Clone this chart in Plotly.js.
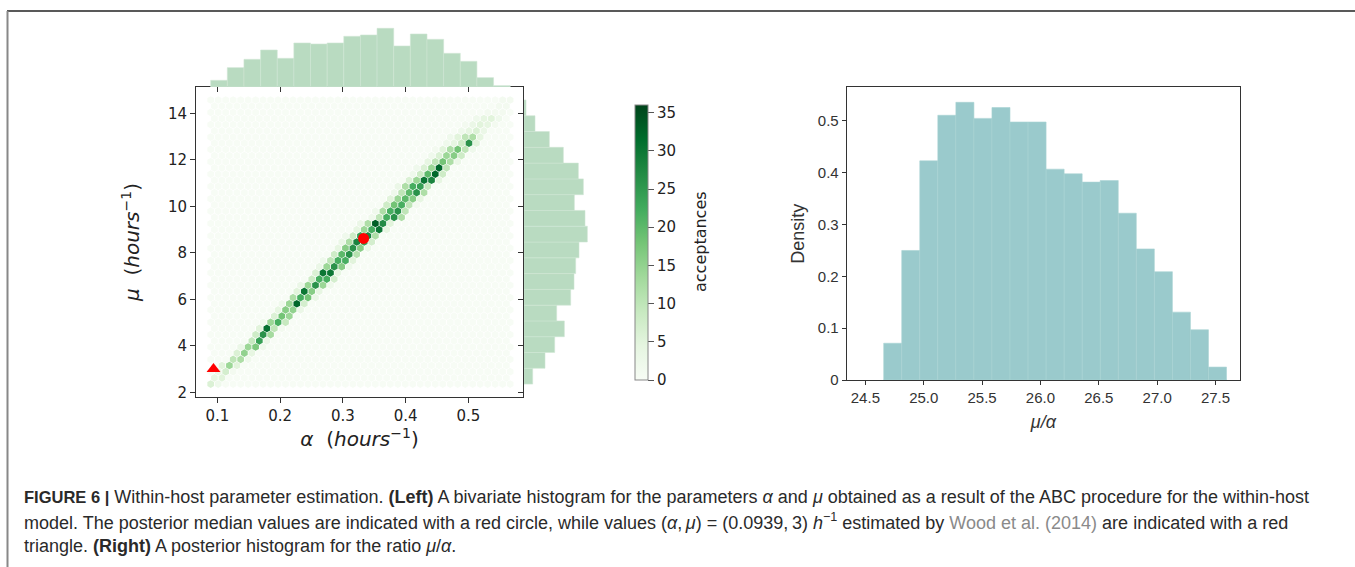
<!DOCTYPE html>
<html><head><meta charset="utf-8">
<script src="https://cdn.plot.ly/plotly-3.0.1.min.js"></script>
<style>html,body{margin:0;padding:0;background:#fff;} #chart{width:1355px;height:567px;}</style>
</head><body><div id="chart"></div>
<script>
// ---- marginal histogram of alpha (top) ----
const alphaBinStart = 0.0894, alphaBinWidth = 0.02651;
const alphaCounts = [20,58,83,111,86,132,129,132,152,156,176,123,159,143,101,77,28,4];
// ---- marginal histogram of mu (right), bottom to top ----
const muBinStart = 2.357, muBinWidth = 0.6786;
const muCounts = [26,63,92,121,98,140,150,155,165,190,183,151,178,163,118,76,33,6];
// ---- posterior histogram of mu/alpha ----
const ratioBinStart = 24.657, ratioBinWidth = 0.1546;
const ratioDensity = [0.071,0.250,0.423,0.511,0.536,0.505,0.526,0.498,0.498,0.407,0.398,0.382,0.385,0.322,0.253,0.209,0.131,0.097,0.025];
// ---- hexbin lattice (gridsize 40) ----
const hexNx = 40, hexNy = 23;
const alphaMin = 0.0894, alphaMax = 0.5665, muMin = 2.357, muMax = 14.572;
// non-empty hex cells: lattice row, first column, counts of consecutive cells
const bandRow = [0,1,2,3,4,5,6,7,8,9,10,11,12,13,14,15,16,17,18,19,20,21,22,23,
  24,25,26,27,28,29,30,31,32,33,34,35,36,37,38,39,40,41,42,43,44,45,46];
const bandFirstCol = [0,0,1,1,3,3,4,5,6,6,7,8,9,9,11,11,12,13,14,14,15,16,17,17,
  18,19,20,21,22,23,24,24,25,26,27,27,29,29,30,31,32,33,34,35,37,38,39];
const bandCounts = [
  [6,2],[4,5],[3,7,1],[5,14,5],[10,12,2],[6,15,4],[3,14,17,2],[9,24,3],[8,26,13],[5,31,10,1],
  [2,14,22,9],[6,18,14],[4,16,15,3],[2,14,32,7],[12,22,18,3],[5,30,16,4],[3,14,26,14,2],[8,22,22,7],
  [6,30,30,4],[3,14,26,16,2],[2,10,22,22,5],[8,20,26,11],[4,16,26,16,3],[3,12,28,24,7],
  [2,8,24,28,12],[4,14,22,30,4],[3,12,33,27,5],[2,10,22,26,12],[2,12,22,26,10],[8,18,22,10,1],
  [5,14,20,16,4],[2,10,20,26,12],[3,12,22,24,9],[6,14,30,28,4],[2,8,20,32,8],[2,6,14,32,10],
  [4,10,18,12,3],[2,6,14,16,8],[1,5,12,18,10,2],[2,4,8,26,5],[2,5,10,12,4],[2,4,6,3],
  [1,3,5,4,1],[2,4,5,2],[1,1,1],[1,1],[1,1]];
// reference points
const wood = {alpha:[0.0939], mu:[3]};
const median = {alpha:[0.333], mu:[8.62]};

// ---------- build ----------
const W=1355, H=567;
const px = v => v/W, py = v => 1 - v/H;
const sx=(alphaMax-alphaMin)/hexNx, sy=(muMax-muMin)/hexNy;
const cnt = new Map();
bandRow.forEach((r,i)=>bandCounts[i].forEach((v,k)=>cnt.set(r+','+(bandFirstCol[i]+k), v)));
const gx=[], gy=[], gc=[];
for(let r=0;r<=2*hexNy;r++){
  const odd=r%2===1, n=odd?hexNx:hexNx+1;
  for(let c=0;c<n;c++){
    gx.push(alphaMin+(c+(odd?0.5:0))*sx);
    gy.push(muMin+r*sy/2);
    gc.push(cnt.get(r+','+c)||0);
  }
}
const greens=[[0,'#f7fcf5'],[0.125,'#e5f5e0'],[0.25,'#c7e9c0'],[0.375,'#a1d99b'],[0.5,'#74c476'],[0.625,'#41ab5d'],[0.75,'#238b45'],[0.875,'#006d2c'],[1,'#00441b']];
const centers=(s,w,n)=>Array.from({length:n},(_,i)=>s+(i+0.5)*w);

const xHex=[196,523], yHex=[87,397];
const tickFont={family:'DejaVu Sans',size:15,color:'#222'};
const argFont={family:'Liberation Sans, Arial, sans-serif',size:15,color:'#333'};
const capFont={family:'Liberation Sans, Arial',size:18,color:'#2a2a2a'};

const traces=[
 {type:'scatter',mode:'markers',x:gx,y:gy,xaxis:'x',yaxis:'y',hoverinfo:'skip',
  marker:{symbol:'hexagon',size:7.7,color:gc,colorscale:greens,cmin:0,cmax:36,line:{width:0},
   showscale:true,colorbar:{x:px(635),xanchor:'left',xref:'paper',y:py(242.5),yanchor:'middle',yref:'paper',
    len:275,lenmode:'pixels',thickness:13,outlinewidth:1,outlinecolor:'#888',xpad:0,ypad:0,
    tickvals:[0,5,10,15,20,25,30,35],ticks:'outside',ticklen:6,tickcolor:'#555',tickfont:tickFont}}},
 {type:'scatter',mode:'markers',x:wood.alpha,y:wood.mu,xaxis:'x',yaxis:'y',hoverinfo:'skip',
  marker:{symbol:'triangle-up',size:12,color:'#ff0000'}},
 {type:'scatter',mode:'markers',x:median.alpha,y:median.mu,xaxis:'x',yaxis:'y',hoverinfo:'skip',
  marker:{symbol:'circle',size:11,color:'#ff0000'}},
 {type:'bar',x:centers(alphaBinStart,alphaBinWidth,alphaCounts.length),y:alphaCounts,width:alphaBinWidth,
  xaxis:'x',yaxis:'y2',marker:{color:'#b9dbc1',line:{color:'#cfe6d3',width:0.6}},hoverinfo:'skip'},
 {type:'bar',orientation:'h',y:centers(muBinStart,muBinWidth,muCounts.length),x:muCounts,width:muBinWidth,
  xaxis:'x2',yaxis:'y',marker:{color:'#b9dbc1',line:{color:'#cfe6d3',width:0.6}},hoverinfo:'skip'},
 {type:'bar',x:centers(ratioBinStart,ratioBinWidth,ratioDensity.length),y:ratioDensity,width:ratioBinWidth,
  xaxis:'x3',yaxis:'y3',marker:{color:'#9acacc',line:{color:'#a9d3d3',width:0.6}},hoverinfo:'skip'},
 {type:'scatter',x:[],y:[],xaxis:'x4',yaxis:'y',hoverinfo:'skip'},
 {type:'scatter',x:[],y:[],xaxis:'x',yaxis:'y4',hoverinfo:'skip'}
];

const hexX={domain:[px(xHex[0]),px(xHex[1])],range:[0.066,0.587],anchor:'y',showgrid:false,zeroline:false,
  showline:true,linecolor:'#333',linewidth:1,mirror:true,ticks:'outside',ticklen:5,tickcolor:'#333',
  tickvals:[0.1,0.2,0.3,0.4,0.5],tickfont:tickFont,
  title:{text:'<i>α</i>  (<i>hours</i><sup>−1</sup>)',font:{family:'DejaVu Sans',size:20,color:'#222'},standoff:6}};
const hexY={domain:[py(yHex[1]),py(yHex[0])],range:[1.8,15.13],anchor:'x',showgrid:false,zeroline:false,
  showline:true,linecolor:'#333',linewidth:1,mirror:true,ticks:'outside',ticklen:5,tickcolor:'#333',
  tickvals:[2,4,6,8,10,12,14],tickfont:tickFont,
  title:{text:'<i>μ</i>  (<i>hours</i><sup>−1</sup>)',font:{family:'DejaVu Sans',size:20,color:'#222'},standoff:22}};

const layout={
  width:W,height:H,margin:{l:0,r:0,t:0,b:0},paper_bgcolor:'#fff',plot_bgcolor:'rgba(0,0,0,0)',
  showlegend:false,bargap:0,font:{family:'DejaVu Sans',color:'#222'},
  xaxis:hexX, yaxis:hexY,
  yaxis2:{domain:[py(87),py(22)],range:[0,195],anchor:'x',visible:false},
  xaxis2:{domain:[px(524),px(590)],range:[0,198],anchor:'y',visible:false},
  xaxis4:{overlaying:'x',side:'top',anchor:'y',range:[0.066,0.587],tickvals:[0.1,0.2,0.3,0.4,0.5],
    ticks:'inside',ticklen:5,tickcolor:'#333',showticklabels:false,showgrid:false,zeroline:false,showline:false},
  yaxis4:{overlaying:'y',side:'right',anchor:'x',range:[1.8,15.13],tickvals:[2,4,6,8,10,12,14],
    ticks:'inside',ticklen:5,tickcolor:'#333',showticklabels:false,showgrid:false,zeroline:false,showline:false},
  xaxis3:{domain:[px(846.7),px(1240)],range:[24.34,27.71],anchor:'y3',showgrid:false,zeroline:false,
    showline:true,linecolor:'#333',mirror:true,ticks:'outside',ticklen:4,tickcolor:'#333',
    tick0:24.5,dtick:0.5,tickformat:'.1f',tickfont:argFont,
    title:{text:'<i>μ/α</i>',font:{family:'Liberation Sans, Arial',size:18,color:'#333'},standoff:10}},
  yaxis3:{domain:[py(380),py(87.3)],range:[0,0.565],anchor:'x3',showgrid:false,zeroline:false,
    showline:true,linecolor:'#333',mirror:true,ticks:'outside',ticklen:4,tickcolor:'#333',
    dtick:0.1,tickfont:argFont,
    title:{text:'Density',font:{family:'Liberation Sans, Arial',size:18,color:'#333'},standoff:8}},
  shapes:[
    {type:'line',xref:'paper',yref:'paper',x0:px(7),x1:1,y0:py(11),y1:py(11),line:{color:'#222',width:1.5}},
    {type:'line',xref:'paper',yref:'paper',x0:px(7.5),x1:px(7.5),y0:py(11),y1:0,line:{color:'#888',width:2}}
  ],
  annotations:[
    {xref:'paper',yref:'paper',x:px(700),y:py(242),xanchor:'center',yanchor:'middle',showarrow:false,textangle:-90,
     text:'acceptances',font:{family:'DejaVu Sans',size:16,color:'#222'}},
    {xref:'paper',yref:'paper',x:px(22),y:py(497),xanchor:'left',yanchor:'middle',showarrow:false,align:'left',font:capFont,
     text:'<b><span style="font-size:16.5px">FIGURE 6 |</span></b> Within-host parameter estimation. <b>(Left)</b> A bivariate histogram for the parameters <i>α</i> and <i>μ</i> obtained as a result of the ABC procedure for the within-host'},
    {xref:'paper',yref:'paper',x:px(22),y:py(521),xanchor:'left',yanchor:'middle',showarrow:false,align:'left',font:capFont,
     text:'model. The posterior median values are indicated with a red circle, while values (<i>α</i>,\u2009<i>μ</i>) = (0.0939,\u20093) <i>h</i><sup>−1</sup> estimated by <span style="color:#8a8a8a">Wood et al. (2014)</span> are indicated with a red'},
    {xref:'paper',yref:'paper',x:px(22),y:py(546),xanchor:'left',yanchor:'middle',showarrow:false,align:'left',font:capFont,
     text:'triangle. <b>(Right)</b> A posterior histogram for the ratio <i>μ</i>/<i>α</i>.'}
  ]
};
Plotly.newPlot('chart',traces,layout,{displayModeBar:false,staticPlot:true});
</script></body></html>
